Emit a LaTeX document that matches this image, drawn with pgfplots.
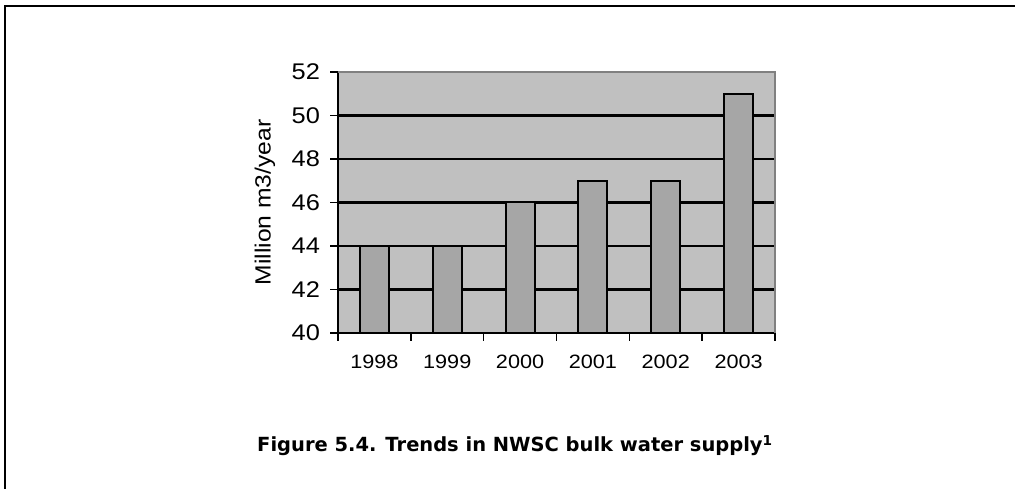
\documentclass[border=0pt]{standalone}
\usepackage{pgfplots}
\pgfplotsset{compat=1.18}
\usepackage{fontspec}
\setmainfont{Liberation Sans}
\newfontfamily\chartfont[FakeStretch=1.12]{Liberation Sans}
\newfontfamily\capfont{DejaVu Sans}

\definecolor{plotbg}{HTML}{C0C0C0}
\definecolor{barfill}{HTML}{A6A6A6}
\definecolor{edgegrey}{HTML}{808080}

\begin{document}
\begin{tikzpicture}
  % page size = 1015 x 489 px at 0.75pt/px
  \path[use as bounding box] (0,0) rectangle (761.25pt,366.75pt);
  % frame of the figure box (left and top edges)
  \draw[line width=2pt] (3.75pt,0) -- (3.75pt,362.25pt) -- (761.25pt,362.25pt);

  \begin{axis}[
    at={(253.5pt,117pt)}, anchor=south west,
    scale only axis,
    width=327.75pt, height=195.75pt,
    xmin=-0.5, xmax=5.5,
    ymin=40, ymax=52,
    ytick={40,42,...,52},
    xtick={0,...,5},
    xticklabels={1998,1999,2000,2001,2002,2003},
    minor xtick={-0.5,0.5,...,5.5},
    major x tick style={draw=none},
    tick align=outside,
    xtick pos=bottom, ytick pos=left,
    major tick length=6pt, minor tick length=6pt,
    every tick/.style={black, line width=1.2pt},
    ymajorgrids,
    grid style={black, line width=1.6pt},
    axis background/.style={fill=plotbg},
    axis line style={line width=1.4pt},
    separate axis lines,
    every outer x axis line/.append style={black},
    every outer y axis line/.append style={black},
    /pgf/number format/assume math mode=true,
    yticklabel style={font=\chartfont\fontsize{17}{19}\selectfont, xshift=-4pt},
    xticklabel style={font=\chartfont\fontsize{14.5}{16}\selectfont, yshift=-7pt},
    ylabel={Million m3/year},
    ylabel style={font=\chartfont\fontsize{16.5}{18}\selectfont, at={(axis description cs:-0.167,0.5)}, anchor=center},
    ybar, bar width=21.75pt,
    clip=false,
  ]
    \addplot[fill=barfill, draw=black, line width=1.4pt] coordinates {
      (0,44) (1,44) (2,46) (3,47) (4,47) (5,51)
    };
    % grey top and right edges of the plot area
    \draw[edgegrey, line width=1.4pt] (rel axis cs:0,1) -- (rel axis cs:1,1) -- (rel axis cs:1,0);
  \end{axis}

  \node[anchor=base, font=\capfont\bfseries\fontsize{14.6}{18}\selectfont] at (386.25pt,27.75pt)
    {Figure 5.4. Trends in NWSC bulk water supply\textsuperscript{1}};
\end{tikzpicture}
\end{document}
